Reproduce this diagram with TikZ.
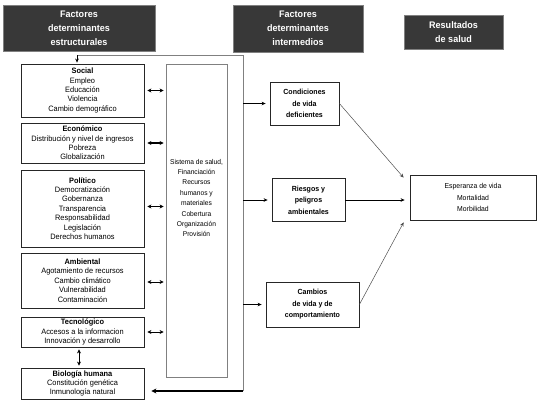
\documentclass[tikz,border=0pt]{standalone}
\usepackage{fontspec}
\setmainfont{Liberation Sans}[FakeStretch=0.95]
\usetikzlibrary{arrows.meta,calc}
\begin{document}
\begin{tikzpicture}[x=1pt,y=-1pt,
  hdr/.style={draw=black!50, line width=0.8pt, fill=black!78, text=white,
    font=\fontsize{9.5}{14}\selectfont\bfseries, align=center, inner sep=0pt},
  lbox/.style={draw=black!85, line width=0.8pt, align=center, inner sep=0pt,
    minimum width=123pt, font=\fontsize{7.8}{9.4}\selectfont},
  mbox/.style={draw=black!85, line width=0.8pt, align=center, inner sep=0pt,
    font=\fontsize{7.4}{11.5}\selectfont\bfseries},
  gline/.style={draw=black!50, line width=0.7pt},
  tip/.style={-{Stealth[length=4pt,width=3.6pt]}},
  darrow/.style={line width=1.2pt, {Stealth[length=4pt,width=4pt]}-{Stealth[length=4pt,width=4pt]}},
]
\useasboundingbox (0,0) rectangle (540,405);
% headers
\node[hdr, minimum width=152pt, minimum height=46pt] (h1) at (79,28) {Factores\\determinantes\\estructurales};
\node[hdr, minimum width=130pt, minimum height=47pt] (h2) at (298,28.5) {Factores\\determinantes\\intermedios};
\node[hdr, minimum width=99pt, minimum height=34pt] (h3) at (453.5,32) {Resultados\\de salud};
% left boxes
\node[lbox, minimum height=53pt] (social) at (82.5,90.5) {\textbf{Social}\\Empleo\\Educación\\Violencia\\Cambio demográfico};
\node[lbox, minimum height=40pt] (econ) at (82.5,143) {\textbf{Económico}\\Distribución y nivel de ingresos\\Pobreza\\Globalización};
\node[lbox, minimum height=77pt] (polit) at (82.5,208.5) {\textbf{Político}\\Democratización\\Gobernanza\\Transparencia\\Responsabilidad\\Legislación\\Derechos humanos};
\node[lbox, minimum height=55pt] (amb) at (82.5,280.5) {\textbf{Ambiental}\\Agotamiento de recursos\\Cambio climático\\Vulnerabilidad\\Contaminación};
\node[lbox, minimum height=30pt] (tec) at (82.5,332) {\textbf{Tecnológico}\\Accesos a la informacion\\Innovación y desarrollo};
\node[lbox, minimum height=31pt] (bio) at (82.5,383.5) {\textbf{Biología humana}\\Constitución genética\\Inmunología natural};
% health system
\node[draw=black!50, line width=0.8pt, minimum width=61pt, minimum height=313pt, inner sep=0pt] (health) at (196.5,220.5) {};
\node[align=center, inner sep=0pt, font=\fontsize{7}{10.4}\selectfont] (htext) at (196.5,198) {Sistema de salud,\\Financiación\\Recursos\\humanos y\\materiales\\Cobertura\\Organización\\Provisión};
% middle boxes
\node[mbox, minimum width=69pt, minimum height=43pt] (cond) at (304.5,103.5) {Condiciones\\de vida\\deficientes};
\node[mbox, minimum width=73pt, minimum height=43pt] (ries) at (308.5,200) {Riesgos y\\peligros\\ambientales};
\node[mbox, minimum width=93pt, minimum height=45pt] (camb) at (312.5,304.5) {Cambios\\de vida y de\\comportamiento};
% result
\node[draw=black!85, line width=0.8pt, minimum width=126pt, minimum height=45pt, align=center, inner sep=0pt,
  font=\fontsize{7.2}{11.5}\selectfont] (esp) at (473,197.5) {Esperanza de vida\\Mortalidad\\Morbilidad};
% bracket lines
\coordinate (tl) at (77,55);
\coordinate (tr) at (243,55);
\coordinate (br) at (243,391);
\draw[gline] (tr) -- (tl);
\draw[gline, tip, black] (tl) -- ($(tl |- social.north)+(0,-1)$);
\draw[gline] (tr) -- (br);
\draw[line width=1.8pt, -{Stealth[length=5pt,width=5pt]}] (br) -- ($(br -| bio.east)+(7,0)$);
% arrows to intermediate boxes
\draw[gline, tip, black] (tr |- cond.west) -- ($(cond.west)+(-4,0)$);
\draw[gline, tip, black] (tr |- ries.west) -- ($(ries.west)+(-4,0)$);
\draw[gline, tip, black] (tr |- camb.west) -- ($(camb.west)+(-4,0)$);
% double arrows
\draw[darrow] ($(social.east)+(3,0)$) -- ($(social.east -| health.west)+(-2,0)$);
\draw[darrow] ($(econ.east)+(3,0)$) -- ($(econ.east -| health.west)+(-2,0)$);
\draw[darrow] ($(polit.east)+(3,-2)$) -- ($(polit.east -| health.west)+(-2,-2)$);
\draw[darrow, line width=0.9pt] ($(amb.east)+(3,1.5)$) -- ($(amb.east -| health.west)+(-2,1.5)$);
\draw[darrow, line width=0.9pt] ($(tec.east)+(3,0)$) -- ($(tec.east -| health.west)+(-2,0)$);
\draw[darrow, line width=0.9pt] ($(tec.south)+(-3.5,2)$) -- ($(bio.north)+(-3.5,-2)$);
% to results
\draw[line width=0.5pt, black!70, tip] (cond.east) -- ($(esp.north west)+(-6,3)$);
\draw[line width=1pt, tip] (ries.east) -- ($(esp.west |- ries.east)+(-5,0)$);
\draw[line width=0.5pt, black!70, tip] (camb.east) -- ($(esp.south west)+(-6,2)$);
\end{tikzpicture}
\end{document}
